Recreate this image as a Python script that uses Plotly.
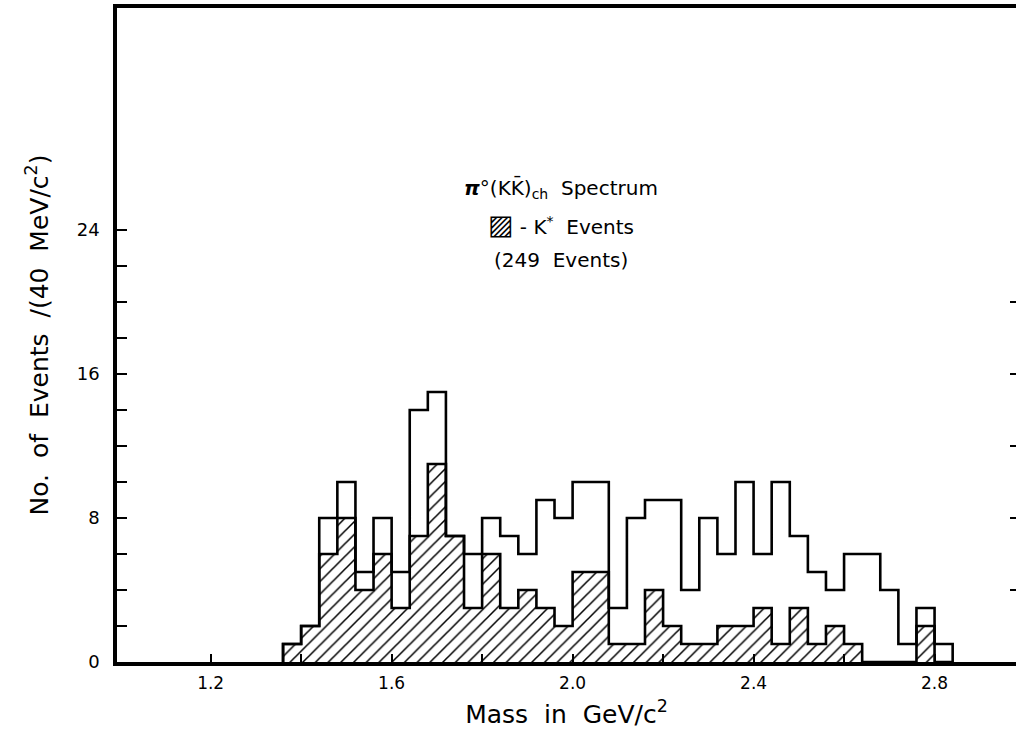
import plotly.graph_objects as go

# Lower edges of the 40 MeV/c^2 mass bins (GeV/c^2)
mass_lo = [1.36, 1.40, 1.44, 1.48, 1.52, 1.56, 1.60, 1.64, 1.68, 1.72,
           1.76, 1.80, 1.84, 1.88, 1.92, 1.96, 2.00, 2.04, 2.08, 2.12,
           2.16, 2.20, 2.24, 2.28, 2.32, 2.36, 2.40, 2.44, 2.48, 2.52,
           2.56, 2.60, 2.64, 2.68, 2.72, 2.76, 2.80]
mass_hi_last = 2.84
bin_width = 0.04

# All pi0 (K Kbar)_ch events per bin (total 249)
total_counts = [1, 2, 8, 10, 5, 8, 5, 14, 15, 7,
                6, 8, 7, 6, 9, 8, 10, 10, 3, 8,
                9, 9, 4, 8, 6, 10, 6, 10, 7, 5,
                4, 6, 6, 4, 1, 3, 1]
# K* events per bin (hatched)
kstar_counts = [1, 2, 6, 8, 4, 6, 3, 7, 11, 7,
                3, 6, 3, 4, 3, 2, 5, 5, 1, 1,
                4, 2, 1, 1, 2, 2, 3, 1, 3, 1,
                2, 1, 0, 0, 0, 2, 0]

x_tickvals = [1.2, 1.4, 1.6, 1.8, 2.0, 2.2, 2.4, 2.6, 2.8]
x_ticktext = ["1.2", "", "1.6", "", "2.0", "", "2.4", "", "2.8"]
y_tickvals = [0, 2, 4, 6, 8, 10, 12, 14, 16, 18, 20, 22, 24]
y_ticktext = ["0", "", "", "", "8", "", "", "", "16", "", "", "", "24"]
y_right_ticks = [4, 8, 12, 16, 20]

FONT = "DejaVu Sans"


def step_xy(lo, hi_last, counts):
    xs = [lo[0]] + list(lo) + [hi_last]
    ys = [0] + list(counts) + [0]
    return xs, ys


fig = go.Figure()

# hatched K* fill
fig.add_trace(go.Bar(
    x=mass_lo, y=kstar_counts, width=bin_width, offset=0,
    marker=dict(color="white", line=dict(width=0),
                pattern=dict(shape="/", fgcolor="black", bgcolor="white",
                             size=9, solidity=0.17, fillmode="replace")),
    showlegend=False, hoverinfo="skip"))

# K* outline
kx, ky = step_xy(mass_lo, mass_hi_last, kstar_counts)
fig.add_trace(go.Scatter(x=kx, y=ky, mode="lines",
                         line=dict(color="black", width=2.6, shape="hv"),
                         showlegend=False, hoverinfo="skip"))

# total outline
tx, ty = step_xy(mass_lo, mass_hi_last, total_counts)
fig.add_trace(go.Scatter(x=tx, y=ty, mode="lines",
                         line=dict(color="black", width=2.6, shape="hv"),
                         showlegend=False, hoverinfo="skip"))

# dummy trace for right-hand tick axis
fig.add_trace(go.Scatter(x=[None], y=[None], yaxis="y2", showlegend=False,
                         hoverinfo="skip"))

fig.update_layout(
    width=1016, height=736,
    margin=dict(l=117, r=0, t=8, b=74),
    plot_bgcolor="white", paper_bgcolor="white",
    font=dict(family=FONT, color="black"),
    bargap=0,
    xaxis=dict(range=[0.993, 2.98], showgrid=False, zeroline=False,
               showline=True, linecolor="black", linewidth=3.5, mirror=True,
               ticks="inside", ticklen=8, tickwidth=1.5, tickcolor="black",
               tickvals=x_tickvals, ticktext=x_ticktext,
               tickfont=dict(size=17, family=FONT), ticklabelstandoff=3,
               title=dict(text="Mass  in  GeV/c<sup>2</sup>",
                          font=dict(size=25, family=FONT), standoff=14)),
    yaxis=dict(range=[0, 36.33], showgrid=False, zeroline=False,
               showline=True, linecolor="black", linewidth=3.5, mirror=False,
               ticks="inside", ticklen=10, tickwidth=1.5, tickcolor="black",
               tickvals=y_tickvals, ticktext=y_ticktext,
               tickfont=dict(size=18, family=FONT), ticklabelstandoff=10,
               title=dict(text="No.  of  Events  /(40  MeV/c<sup>2</sup>)",
                          font=dict(size=25, family=FONT), standoff=22)),
    yaxis2=dict(range=[0, 36.33], overlaying="y", side="right",
                showgrid=False, zeroline=False, showline=False,
                ticks="inside", ticklen=6, tickwidth=1.5, tickcolor="black",
                tickvals=y_right_ticks, showticklabels=False),
)

ann_font = dict(size=20, family=FONT, color="black")
fig.add_annotation(x=1.975, y=26.33, xref="x", yref="y", showarrow=False,
                   text="<b><i>π</i></b>°(KK̄)<sub>ch</sub>  Spectrum",
                   font=ann_font, xanchor="center", yanchor="middle")
fig.add_annotation(x=1.975, y=24.28, xref="x", yref="y", showarrow=False,
                   text="<span style=\"font-size:27px\">▨</span> - K<sup>*</sup>  Events",
                   font=ann_font, xanchor="center", yanchor="middle")
fig.add_annotation(x=1.975, y=22.33, xref="x", yref="y", showarrow=False,
                   text="(249  Events)",
                   font=ann_font, xanchor="center", yanchor="middle")

fig.write_html("out.html")
